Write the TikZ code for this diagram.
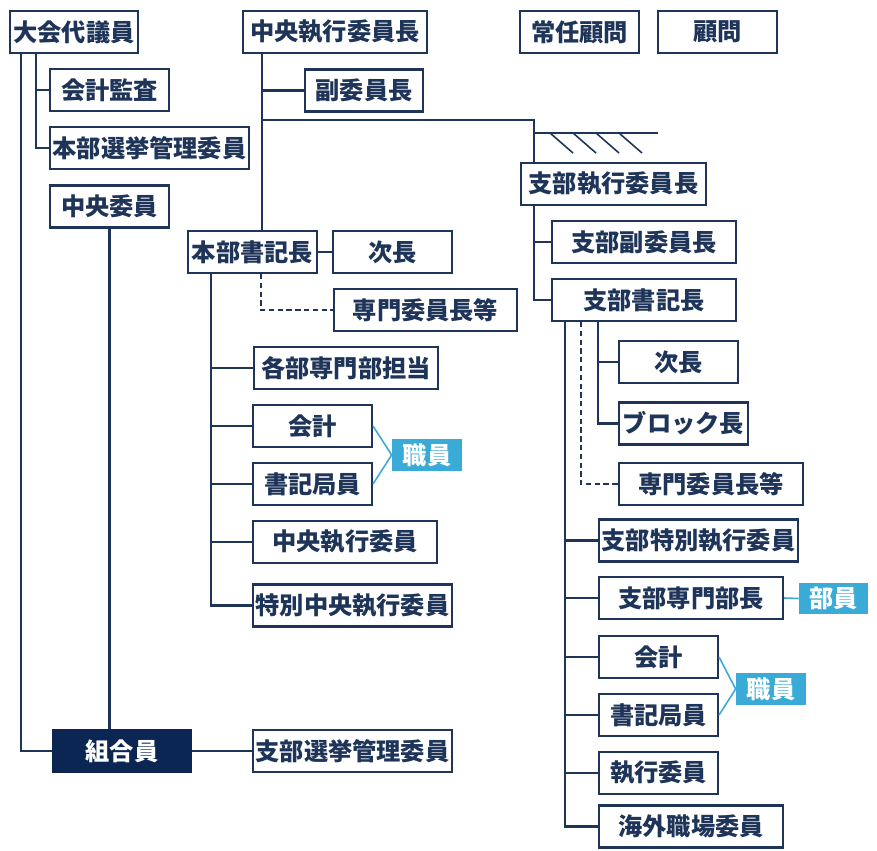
\documentclass[tikz,border=0pt]{standalone}
\usepackage{fontspec}
\setmainfont{Noto Sans CJK JP}
\usepackage{tikz}
\usetikzlibrary{calc}
\definecolor{navy}{RGB}{30,52,88}
\definecolor{deepnavy}{RGB}{12,38,84}
\definecolor{skyblue}{RGB}{58,170,214}

\begin{document}
\begin{tikzpicture}[x=0.02cm,y=-0.02cm,
		box/.style={draw=navy,line width=1.2pt,fill=white,text=navy,font=\fontsize{13.8}{16}\selectfont\bfseries,minimum height=0.84cm,inner sep=0pt},
		dark/.style={fill=deepnavy,text=white,font=\fontsize{13.8}{16}\selectfont\bfseries,minimum height=0.88cm,inner sep=0pt},
		tag/.style={fill=skyblue,text=white,font=\fontsize{13.8}{16}\selectfont\bfseries,minimum height=0.63cm,minimum width=1.4cm,inner sep=0pt},
		link/.style={draw=navy,line width=1.2pt},
		dlink/.style={draw=navy,line width=1.1pt,dash pattern=on 3pt off 2pt},
		blink/.style={draw=skyblue,line width=0.9pt}]
		\useasboundingbox (0,0) rectangle (877,851);
		% left column
		\node[box,minimum width=2.56cm] (daigi) at (74,32) {大会代議員};
		\node[box,minimum width=2.38cm] (kansa) at (109.5,90) {会計監査};
		\node[box,minimum width=3.98cm] (honsen) at (149.5,148) {本部選挙管理委員};
		\node[box,minimum width=2.38cm] (chuoi) at (109.5,206.5) {中央委員};
		\node[dark,minimum width=2.8cm] (kumiai) at (122,751) {組合員};
		\node[box,minimum width=3.98cm] (shisen) at (352.5,751) {支部選挙管理委員};
		% head office
		\node[box,minimum width=3.68cm] (iincho) at (335,32) {中央執行委員長};
		\node[box,minimum width=2.36cm] (fuku) at (364,90.5) {副委員長};
		\node[box,minimum width=2.58cm] (honsho) at (252.5,252) {本部書記長};
		\node[box,minimum width=2.38cm] (jicho) at (392.5,252) {次長};
		\node[box,minimum width=3.66cm] (senmon) at (425.5,310) {専門委員長等};
		\node[box,minimum width=3.68cm] (kakubu) at (346,368) {各部専門部担当};
		\node[box,minimum width=2.38cm] (kaikei) at (312.5,426) {会計};
		\node[box,minimum width=2.38cm] (shoki) at (312.5,484) {書記局員};
		\node[tag] (shokuin) at (427,455) {職員};
		\node[box,minimum width=3.68cm] (chushi) at (345,542) {中央執行委員};
		\node[box,minimum width=3.98cm] (tokubetsu) at (352.5,605.5) {特別中央執行委員};
		% advisers
		\node[box,minimum width=2.38cm] (jonin) at (579.5,32) {常任顧問};
		\node[box,minimum width=2.38cm] (komon) at (717.5,32) {顧問};
		% branch
		\node[box,minimum width=3.7cm] (shicho) at (613.5,184) {支部執行委員長};
		\node[box,minimum width=3.68cm] (shifuku) at (644,242) {支部副委員長};
		\node[box,minimum width=3.68cm] (shisho) at (644,300) {支部書記長};
		\node[box,minimum width=2.38cm] (shijicho) at (678.5,362) {次長};
		\node[box,minimum width=2.58cm] (block) at (683.5,423.5) {ブロック長};
		\node[box,minimum width=3.68cm] (shisenmon) at (711,484) {専門委員長等};
		\node[box,minimum width=3.98cm] (shitoku) at (698.5,540.5) {支部特別執行委員};
		\node[box,minimum width=3.68cm] (shibucho) at (691,598) {支部専門部長};
		\node[tag,minimum width=1.38cm] (buin) at (833.5,598.5) {部員};
		\node[box,minimum width=2.38cm] (shikaikei) at (658.5,657) {会計};
		\node[box,minimum width=2.38cm] (shishoki) at (658.5,715) {書記局員};
		\node[tag] (shishokuin) at (771,689) {職員};
		\node[box,minimum width=2.38cm] (shikkoi) at (658.5,773) {執行委員};
		\node[box,minimum width=3.68cm] (kaigai) at (691,826.5) {海外職場委員};
		% connectors, left
		\draw[link] ([xshift=0.24cm]daigi.south west) |- (kumiai.west);
		\draw[link] ([xshift=0.54cm]daigi.south west) |- (kansa.west);
		\draw[link] ([xshift=0.54cm]daigi.south west) |- (honsen.west);
		\draw[link] (chuoi.south) -- (chuoi.south |- kumiai.north);
		\draw[link] (kumiai.east) -- (shisen.west);
		% connectors, head office
		\coordinate (split) at (263,120);
		\draw[link] ([xshift=0.4cm]iincho.south west) -- ([xshift=0.4cm]iincho.south west |- honsho.north);
		\draw[link] ([xshift=0.4cm]iincho.south west) |- (fuku.west);
		\draw[link] (split) -| ([xshift=0.28cm]shicho.north west);
		\draw[link] (honsho.east) -- (jicho.west);
		\draw[dlink] ([xshift=1.48cm]honsho.south west) |- (senmon.west);
		\foreach \n in {kakubu,kaikei,shoki,chushi,tokubetsu}
			\draw[link] ([xshift=0.48cm]honsho.south west) |- (\n.west);
		\draw[blink] (kaikei.east) -- (shokuin.west);
		\draw[blink] (shoki.east) -- (shokuin.west);
		% hatched border
		\coordinate (hatch) at (535,133);
		\draw[link] (hatch) -- ++(123,0);
		\foreach \i in {0,1,2,3}
			\draw[navy,line width=0.9pt] ($(hatch)+(15+23*\i,0)$) -- ++(23,20);
		% connectors, branch
		\draw[link] ([xshift=0.28cm]shicho.south west) |- (shifuku.west);
		\draw[link] ([xshift=0.28cm]shicho.south west) |- (shisho.west);
		\draw[link] ([xshift=0.94cm]shisho.south west) |- (shijicho.west);
		\draw[link] ([xshift=0.94cm]shisho.south west) |- (block.west);
		\draw[dlink] ([xshift=0.6cm]shisho.south west) |- (shisenmon.west);
		\foreach \n in {shitoku,shibucho,shikaikei,shishoki,shikkoi,kaigai}
			\draw[link] ([xshift=0.28cm]shisho.south west) |- (\n.west);
		\draw[blink] (shibucho.east) -- (buin.west);
		\draw[blink] (shikaikei.east) -- (shishokuin.west);
		\draw[blink] (shishoki.east) -- (shishokuin.west);
	\end{tikzpicture}
\end{document}
